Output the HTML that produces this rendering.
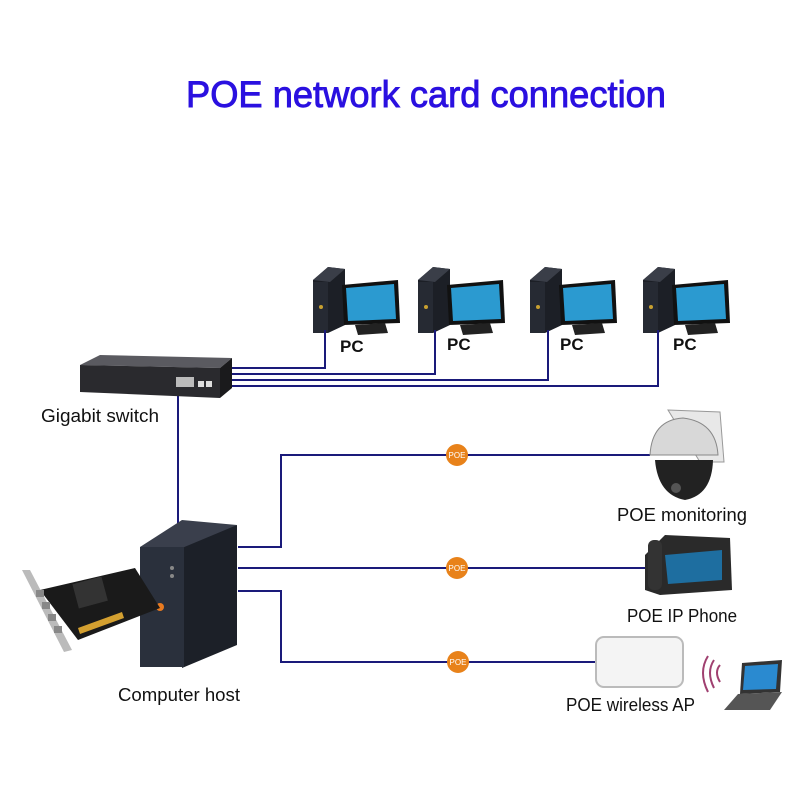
<!DOCTYPE html>
<html><head><meta charset="utf-8"><style>body{margin:0;background:#fff}svg{display:block}text{font-family:"Liberation Sans",sans-serif}</style></head>
<body>
<svg width="800" height="800" viewBox="0 0 800 800" xmlns="http://www.w3.org/2000/svg">
<defs>
<g id="pc">
<polygon points="13,25 28,12 45,14 45,70 28,78 13,78" fill="#1c1f26"/>
<polygon points="13,25 28,12 45,14 30,27" fill="#3a3e48"/>
<rect x="13" y="27" width="15" height="51" fill="#262a33"/>
<circle cx="21" cy="52" r="2" fill="#c8a030"/>
<polygon points="42,30 98,25 100,68 44,70" fill="#111"/>
<polygon points="46,33 94,29 96,64 48,66" fill="#2b9ad0"/>
<polygon points="55,70 85,68 88,78 58,80" fill="#222"/>
</g>
</defs>
<text x="186" y="107" font-size="37" fill="#2a10e0" stroke="#2a10e0" stroke-width="0.9" textLength="480" lengthAdjust="spacingAndGlyphs">POE network card connection</text>

<use href="#pc" x="300" y="255"/>
<use href="#pc" x="405" y="255"/>
<use href="#pc" x="517" y="255"/>
<use href="#pc" x="630" y="255"/>
<g font-size="17" font-weight="bold" fill="#111">
<text x="340" y="352">PC</text><text x="447" y="350">PC</text><text x="560" y="350">PC</text><text x="673" y="350">PC</text>
</g>

<g stroke="#1a1a7a" stroke-width="2" fill="none">
<polyline points="230,368 325,368 325,330"/>
<polyline points="230,374 435,374 435,330"/>
<polyline points="230,380 548,380 548,330"/>
<polyline points="230,386 658,386 658,330"/>
<line x1="178" y1="395" x2="178" y2="525"/>
<polyline points="238,547 281,547 281,455 650,455"/>
<line x1="238" y1="568" x2="650" y2="568"/>
<polyline points="238,591 281,591 281,662 605,662"/>
</g>

<polygon points="80,365 100,355 232,358 220,368" fill="#5a5a60"/>
<polygon points="80,365 220,368 220,398 80,392" fill="#2a2a2e"/>
<polygon points="220,368 232,358 232,388 220,398" fill="#1a1a1c"/>
<rect x="176" y="377" width="18" height="10" fill="#bbb"/>
<rect x="198" y="381" width="6" height="6" fill="#ddd"/><rect x="206" y="381" width="6" height="6" fill="#ddd"/>
<g font-size="18" fill="#111" lengthAdjust="spacingAndGlyphs">
<text x="41" y="422" textLength="118" lengthAdjust="spacingAndGlyphs">Gigabit switch</text>
<text x="118" y="701" textLength="122" lengthAdjust="spacingAndGlyphs">Computer host</text>
<text x="617" y="521" textLength="130" lengthAdjust="spacingAndGlyphs">POE monitoring</text>
<text x="627" y="622" textLength="110" lengthAdjust="spacingAndGlyphs">POE IP Phone</text>
<text x="566" y="711" textLength="129" lengthAdjust="spacingAndGlyphs">POE wireless AP</text>
</g>

<g font-size="8" fill="#fff" text-anchor="middle">
<circle cx="457" cy="455" r="11" fill="#e8821a"/><text x="457" y="458">POE</text>
<circle cx="457" cy="568" r="11" fill="#e8821a"/><text x="457" y="571">POE</text>
<circle cx="458" cy="662" r="11" fill="#e8821a"/><text x="458" y="665">POE</text>
</g>

<polygon points="140,547 182,520 237,525 190,550" fill="#3a3f4c"/>
<polygon points="182,548 237,525 237,645 182,668" fill="#1c2028"/>
<rect x="140" y="547" width="44" height="120" fill="#2a303c"/>
<circle cx="172" cy="568" r="2" fill="#888"/><circle cx="172" cy="576" r="2" fill="#888"/>
<circle cx="160" cy="607" r="4" fill="#e87a20"/>
<polygon points="22,570 30,570 72,650 64,652" fill="#bbb"/>
<polygon points="40,590 135,568 160,608 78,640" fill="#1a1a1a"/>
<rect x="75" y="580" width="30" height="25" fill="#333" transform="rotate(-15 90 592)"/>
<g fill="#888"><rect x="36" y="590" width="8" height="7"/><rect x="42" y="602" width="8" height="7"/><rect x="48" y="614" width="8" height="7"/><rect x="54" y="626" width="8" height="7"/></g>
<polygon points="78,628 122,612 124,618 80,634" fill="#d4a030"/>

<polygon points="668,410 720,412 724,462 700,462" fill="#e8e8e8" stroke="#999"/>
<path d="M650,455 Q652,420 683,418 Q716,422 718,455 Z" fill="#d8d8d8" stroke="#888"/>
<path d="M655,460 L713,460 Q712,495 685,500 Q658,495 655,460Z" fill="#222"/>
<circle cx="676" cy="488" r="5" fill="#555"/>

<polygon points="645,555 665,535 730,538 732,590 660,595 645,590" fill="#2a2a2a"/>
<polygon points="665,555 722,550 722,580 668,584" fill="#1e6ea0"/>
<rect x="648" y="540" width="14" height="50" rx="6" fill="#333"/>

<rect x="596" y="637" width="87" height="50" rx="8" fill="#f4f4f4" stroke="#bbb" stroke-width="2"/>
<g fill="none" stroke="#a04070" stroke-width="2">
<path d="M720,665 Q714,672 720,682"/><path d="M714,660 Q706,672 714,688"/><path d="M708,656 Q698,672 708,692"/>
</g>
<polygon points="742,663 782,660 780,692 740,694" fill="#333"/>
<polygon points="745,666 778,664 776,689 743,690" fill="#2a8ad0"/>
<polygon points="738,694 782,692 770,710 724,710" fill="#555"/>
</svg>
</body></html>
